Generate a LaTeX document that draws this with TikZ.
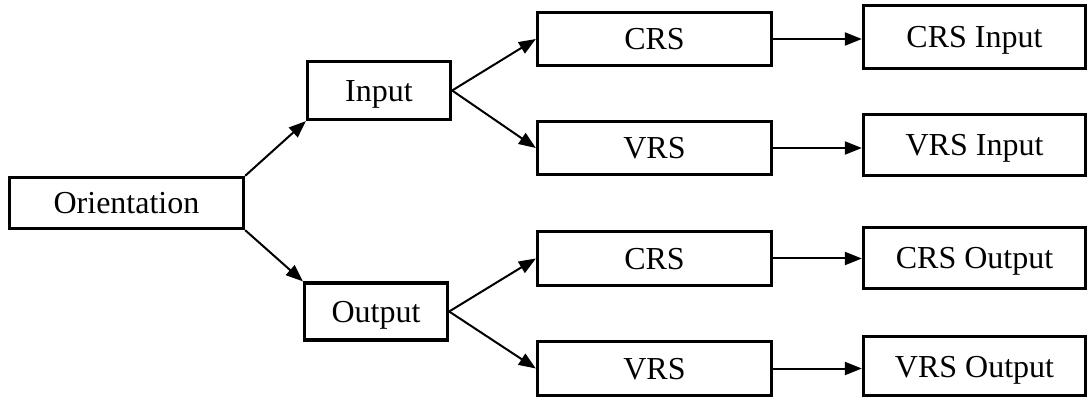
\documentclass[tikz,border=0pt]{standalone}
\usepackage{fontspec}
\setmainfont{Liberation Serif}
\usetikzlibrary{arrows.meta}

\begin{document}
\begin{tikzpicture}[x=1pt, y=-1pt,
    box/.style={draw, line width=3.3pt, inner sep=0pt, text height=22pt, text depth=0pt,
      font=\fontsize{32}{38}\selectfont},
    arr/.style={line width=2pt, -{Triangle[length=17pt, width=13pt]}}]
    \useasboundingbox (0,0) rectangle (1090,398);

    \node[box, minimum width=234pt, minimum height=51pt] (O) at (126.5,203) {Orientation};
    \node[box, minimum width=143pt, minimum height=58pt] (I) at (379,90.5) {Input};
    \node[box, minimum width=143pt, minimum height=57pt] (U) at (376,311.5) {Output};

    \node[box, minimum width=234pt, minimum height=53pt] (C1) at (654.5,39) {CRS};
    \node[box, minimum width=234pt, minimum height=53pt] (V1) at (654.5,148) {VRS};
    \node[box, minimum width=234pt, minimum height=54pt] (C2) at (654.5,258.5) {CRS};
    \node[box, minimum width=234pt, minimum height=54pt] (V2) at (654.5,368.5) {VRS};

    \node[box, minimum width=222pt, minimum height=63pt] (CI) at (974.5,37) {CRS Input};
    \node[box, minimum width=222pt, minimum height=61pt] (VI) at (974.5,145) {VRS Input};
    \node[box, minimum width=222pt, minimum height=61pt] (CO) at (974.5,258) {CRS Output};
    \node[box, minimum width=222pt, minimum height=59pt] (VO) at (974.5,366) {VRS Output};

    \draw[arr] (O.north east) -- (I.south west);
    \draw[arr] (O.south east) -- (U.north west);
    \draw[arr] (I.east) -- (C1.west);
    \draw[arr] (I.east) -- (V1.west);
    \draw[arr] (U.east) -- (C2.west);
    \draw[arr] (U.east) -- (V2.west);
    \draw[arr] (C1.east) -- (C1.east -| CI.west);
    \draw[arr] (V1.east) -- (V1.east -| VI.west);
    \draw[arr] (C2.east) -- (C2.east -| CO.west);
    \draw[arr] (V2.east) -- (V2.east -| VO.west);
\end{tikzpicture}
\end{document}
